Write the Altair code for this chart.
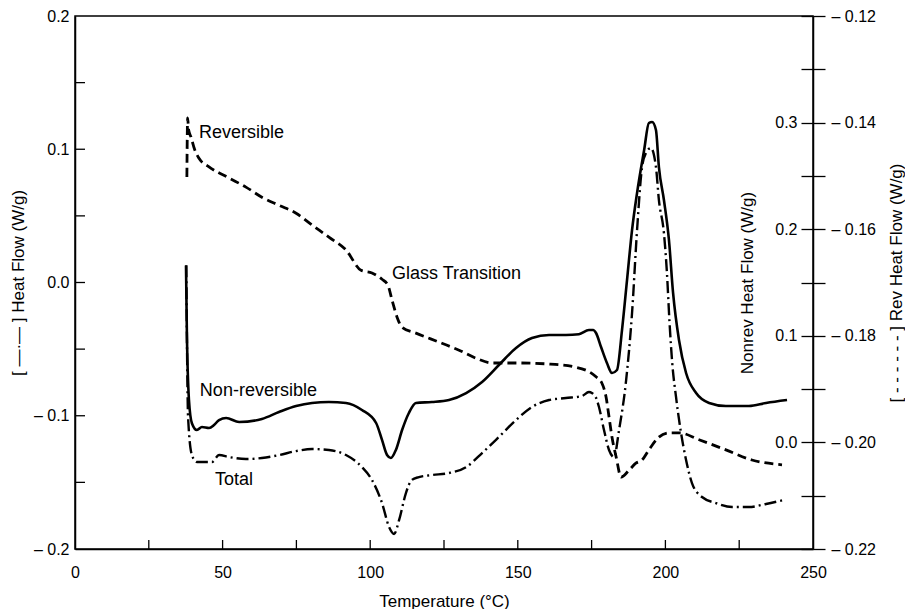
import altair as alt
import pandas as pd

# ---------------- data ----------------
T_TOTAL = [37.7, 38.0, 38.3, 39.6, 41.3, 46.4, 48.8, 52.2, 57.9, 63.3, 69.1, 74.9, 80.3, 86.0,
           91.8, 97.2, 100.6, 104.0, 106.4, 108.1, 109.8, 112.1, 114.1, 116.5, 120.9, 126.7,
           132.5, 137.9, 143.6, 149.4, 154.8, 160.6, 166.3, 171.7, 174.1, 175.1, 176.8, 177.5,
           179.2, 180.9, 182.6, 184.3, 186.7, 188.7, 190.4, 192.1, 193.4, 195.1, 196.8, 197.8,
           199.5, 200.5, 201.4, 202.3, 203.6, 205.3, 207.0, 209.0, 212.4, 217.1, 222.6, 228.3,
           234.1, 240.2]
V_TOTAL = [0.013, -0.060, -0.101, -0.1295, -0.1347, -0.1347, -0.1295, -0.1310, -0.1325, -0.1317,
           -0.1295, -0.1265, -0.1250, -0.1257, -0.1295, -0.1385, -0.1482, -0.1655, -0.1835,
           -0.1887, -0.1782, -0.1580, -0.1482, -0.1460, -0.1445, -0.1430, -0.1385, -0.1280,
           -0.1159, -0.1032, -0.0934, -0.0882, -0.0867, -0.0852, -0.0822, -0.0829, -0.0882,
           -0.0934, -0.1107, -0.1257, -0.1310, -0.1107, -0.0732, -0.0229, 0.0394, 0.0867, 0.0972,
           0.1009, 0.0867, 0.0619, 0.0371, 0.0080, -0.030, -0.060, -0.0859, -0.1129, -0.1332,
           -0.1505, -0.1610, -0.1655, -0.1685, -0.1685, -0.1662, -0.1632]

T_NONREV = [37.6, 37.9, 38.6, 39.6, 41.3, 43.0, 45.4, 47.1, 48.8, 51.2, 55.6, 63.3, 69.1, 74.9,
            80.3, 86.0, 91.8, 97.2, 102.0, 104.0, 105.7, 107.0, 108.7, 110.8, 113.1, 115.5,
            120.9, 126.7, 132.5, 137.9, 143.6, 149.4, 154.8, 160.6, 166.3, 170.7, 174.1, 175.5,
            176.5, 178.2, 180.2, 181.9, 183.6, 185.3, 187.0, 188.7, 190.4, 192.8, 194.4, 195.5,
            196.8, 197.8, 199.5, 201.2, 202.6, 204.6, 207.0, 210.4, 214.8, 220.5, 228.3, 234.1,
            241.2]
V_NONREV = [0.166, 0.103, 0.040, 0.018, 0.0116, 0.0144, 0.0135, 0.0163, 0.0210, 0.0229, 0.0191,
            0.0220, 0.0285, 0.0341, 0.0370, 0.0379, 0.0370, 0.0304, 0.0182, 0.0023, -0.0118,
            -0.0146, -0.0071, 0.0116, 0.0276, 0.0370, 0.0379, 0.0398, 0.0463, 0.0567, 0.0726,
            0.0886, 0.0979, 0.1008, 0.1008, 0.1015, 0.1054, 0.1054, 0.1026, 0.0895, 0.0745,
            0.0651, 0.0679, 0.1054, 0.1523, 0.1992, 0.2340, 0.2743, 0.2996, 0.3006, 0.2931,
            0.2583, 0.2274, 0.1899, 0.1402, 0.0961, 0.0651, 0.0463, 0.0370, 0.0341, 0.0341,
            0.0370, 0.0398]

T_REV = [37.9, 38.0, 38.15, 38.5, 39.3, 40.5, 42.0, 45.4, 52.2, 57.9, 63.3, 69.1, 74.9, 80.3,
         86.0, 91.8, 96.9, 100.6, 104.0, 106.0, 107.4, 109.1, 110.8, 115.5, 124.3, 130.1, 135.8,
         141.3, 149.4, 160.6, 169.7, 176.5, 178.5, 179.9, 180.9, 181.9, 183.3, 185.0, 187.7,
         190.0, 192.1, 194.4, 197.8, 201.2, 204.6, 211.4, 220.5, 229.3, 239.5]
V_REV = [-0.1502, -0.1440, -0.1391, -0.1414, -0.1427, -0.1450, -0.1467, -0.1483, -0.1504,
         -0.1521, -0.1540, -0.1555, -0.1570, -0.1592, -0.1615, -0.1639, -0.1677, -0.1682,
         -0.1694, -0.1705, -0.1733, -0.1765, -0.1784, -0.1795, -0.1814, -0.1827, -0.1842,
         -0.1851, -0.1851, -0.1853, -0.1859, -0.1877, -0.1889, -0.1915, -0.1952, -0.1990,
         -0.2027, -0.2065, -0.2052, -0.2039, -0.2033, -0.2014, -0.1990, -0.1982, -0.1982,
         -0.1995, -0.2014, -0.2033, -0.2042]

# annotations (temperature, heat flow on the left scale)
LABELS = ["Reversible", "Glass Transition", "Non-reversible", "Total"]
LABEL_T = [42.0, 107.4, 42.3, 47.4]
LABEL_V = [0.1122, 0.0064, -0.0814, -0.1482]

# axis ticks / labels
X_LABELS = [0, 50, 100, 150, 200, 250]
X_TICKS = [25, 50, 75, 100, 125, 150, 175, 200, 225]
LEFT_LABELS = [-0.2, -0.1, 0.0, 0.1, 0.2]
LEFT_TICKS = [-0.15, -0.1, -0.05, 0.0, 0.05, 0.1, 0.15]
NONREV_TICKS = [-0.1, -0.05, 0.0, 0.05, 0.1, 0.15, 0.2, 0.25, 0.3, 0.35, 0.4]
REV_TICKS = [-0.22, -0.21, -0.2, -0.19, -0.18, -0.17, -0.16, -0.15, -0.14, -0.13, -0.12]

FONT = "Liberation Sans"
W, H = 738, 533

df_total = pd.DataFrame({"T": T_TOTAL, "v": V_TOTAL})
df_nonrev = pd.DataFrame({"T": T_NONREV, "v": V_NONREV})
df_rev = pd.DataFrame({"T": T_REV, "v": V_REV})
df_lab = pd.DataFrame({"T": LABEL_T, "v": LABEL_V, "txt": LABELS})
df_xt = pd.DataFrame({"T": X_TICKS})
df_yt = pd.DataFrame({"v": LEFT_TICKS})

XSCALE = alt.Scale(domain=[0, 250], nice=False, zero=False)
XAXIS = alt.Axis(values=X_LABELS, ticks=False, tickSize=0, labelPadding=15,
                 title="Temperature (°C)", titlePadding=13, labelFlush=False,
                 grid=False, domain=True)


def xenc():
    return alt.X("T:Q", scale=XSCALE, axis=XAXIS)


left_scale = alt.Scale(domain=[-0.2, 0.2], nice=False, zero=False)

total = alt.Chart(df_total).mark_line(
    color="black", strokeWidth=2.4, strokeDash=[12, 4, 2, 4], interpolate="monotone"
).encode(
    x=xenc(),
    y=alt.Y("v:Q", scale=left_scale,
            axis=alt.Axis(orient="left", values=LEFT_LABELS, ticks=False, tickSize=0,
                          labelPadding=6, grid=False, labelFlush=False,
                          labelExpr="datum.value < 0 ? '– ' + format(-datum.value, '.1f') : format(datum.value, '.1f')",
                          title="[ —·— ]   Heat Flow (W/g)", titlePadding=6)),
)

nonrev = alt.Chart(df_nonrev).mark_line(
    color="black", strokeWidth=2.6, interpolate="monotone"
).encode(
    x=xenc(),
    y=alt.Y("v:Q", scale=alt.Scale(domain=[-0.1, 0.4], nice=False, zero=False),
            axis=alt.Axis(orient="left", offset=-W, values=NONREV_TICKS, tickSize=12,
                          labelPadding=4, grid=False, domain=False, labelFlush=False,
                          labelOverlap=False,
                          labelExpr="indexof(['0.00','0.10','0.20','0.30'], format(datum.value, '.2f')) >= 0 ? format(datum.value, '.1f') : ''",
                          title="Nonrev Heat Flow (W/g)", titlePadding=18)),
)

rev = alt.Chart(df_rev).mark_line(
    color="black", strokeWidth=2.8, strokeDash=[9, 5], interpolate="monotone"
).encode(
    x=xenc(),
    y=alt.Y("v:Q", scale=alt.Scale(domain=[-0.22, -0.12], nice=False, zero=False),
            axis=alt.Axis(orient="right", values=REV_TICKS, tickSize=12, labelPadding=6,
                          grid=False, domain=True, labelFlush=False, labelOverlap=False,
                          labelExpr="indexof(['0.12','0.14','0.16','0.18','0.20','0.22'], format(-datum.value, '.2f')) >= 0 ? '– ' + format(-datum.value, '.2f') : ''",
                          title="[ - - - - - - ]   Rev Heat Flow (W/g)", titlePadding=13,
                          titleAngle=270, titleBaseline="top")),
)

# inward tick marks on the left and bottom axes
yticks = alt.Chart(df_yt).mark_rule(color="black", strokeWidth=1.3).encode(
    y=alt.Y("v:Q", scale=left_scale, axis=None),
    x=alt.value(0), x2=alt.value(10),
)
xticks = alt.Chart(df_xt).mark_rule(color="black", strokeWidth=1.3).encode(
    x=xenc(),
    y=alt.value(H), y2=alt.value(H - 9),
)

labels = alt.Chart(df_lab).mark_text(
    align="left", baseline="middle", fontSize=18, font=FONT, color="black"
).encode(
    x=xenc(),
    y=alt.Y("v:Q", scale=left_scale, axis=None),
    text="txt:N",
)

chart = alt.layer(total, nonrev, rev, yticks, xticks, labels).resolve_scale(
    y="independent"
).properties(
    width=W, height=H, padding={"left": 1, "top": 0, "right": 0, "bottom": 0},
    background="white",
).configure_view(
    stroke="black", strokeWidth=1.5
).configure_axis(
    domainColor="black", domainWidth=1.5, tickColor="black", tickWidth=1.3,
    labelColor="black", titleColor="black", labelFont=FONT, titleFont=FONT,
    labelFontSize=16, titleFontSize=17, titleFontWeight="normal",
)

chart.save("out.html", embed_options={"renderer": "svg", "actions": False})
